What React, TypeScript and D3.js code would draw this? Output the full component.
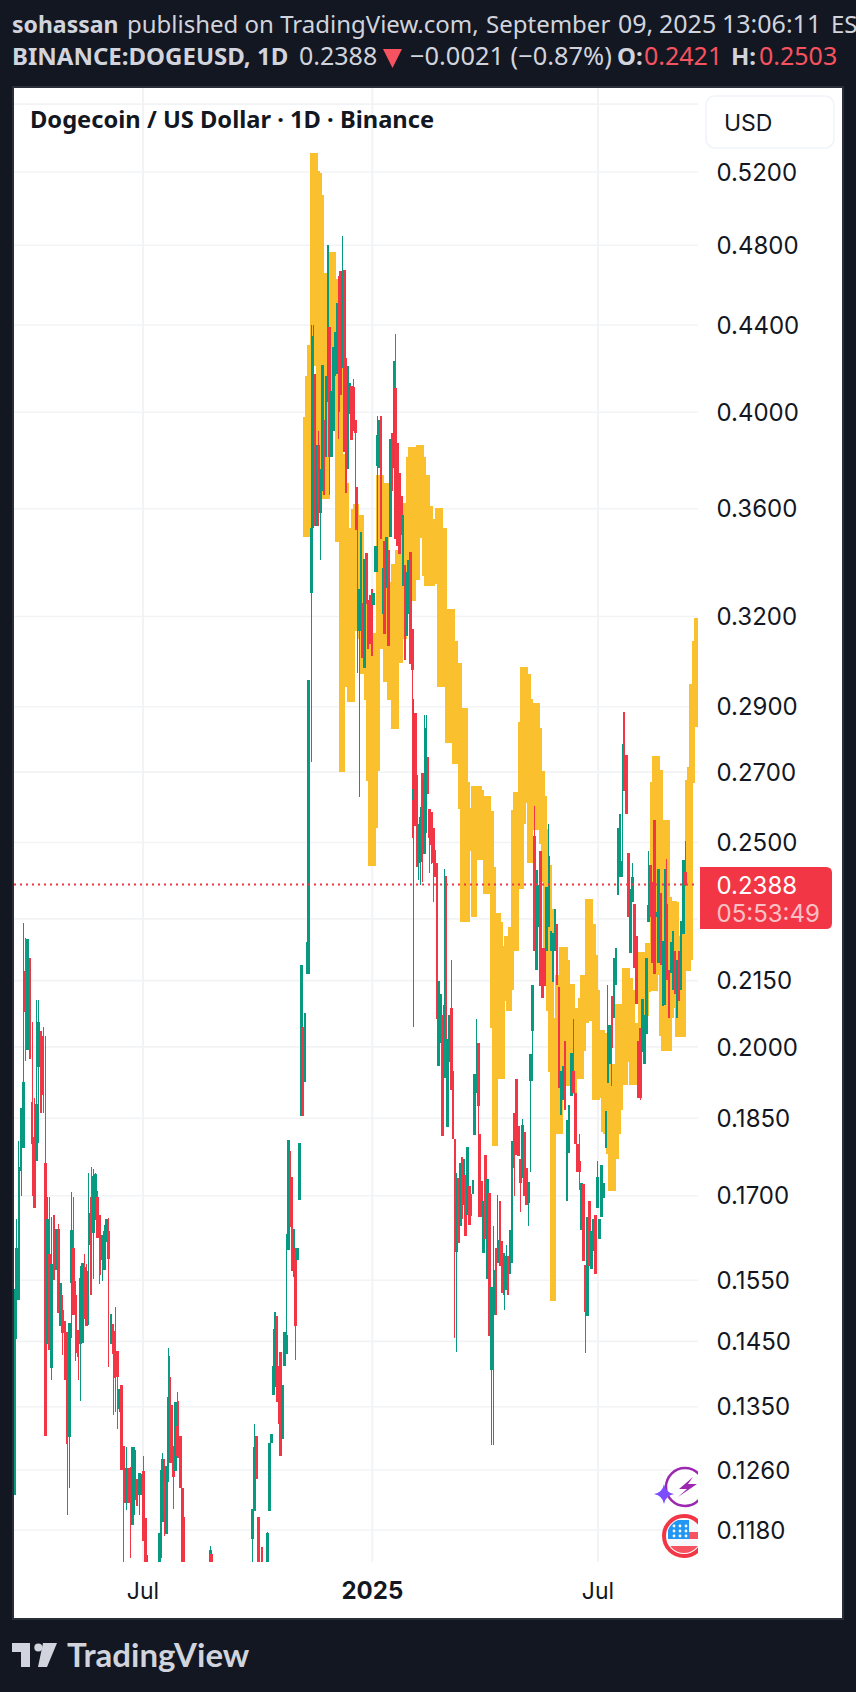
import * as d3 from 'd3';

const width = 856;
const height = 1692;

// open, high, low, close
const candlesSpring2024 = [
  [0.1226, 0.1535, 0.1226, 0.1535], [0.1517, 0.1658, 0.1453, 0.1606], [0.1517, 0.1805, 0.1517, 0.1755],
  [0.1746, 0.187, 0.17, 0.187], [0.179, 0.229, 0.179, 0.1925], [0.2172, 0.2252, 0.197, 0.2077],
  [0.1994, 0.225, 0.1994, 0.225], [0.2204, 0.2204, 0.1973, 0.1973], [0.1883, 0.2055, 0.17, 0.1798],
  [0.1812, 0.1892, 0.1677, 0.1677], [0.1766, 0.2105, 0.1766, 0.188], [0.1957, 0.2105, 0.18, 0.2055],
  [0.2036, 0.2036, 0.186, 0.186], [0.2025, 0.2043, 0.186, 0.1898], [0.1762, 0.2025, 0.1308, 0.1308],
  [0.1445, 0.1697, 0.1445, 0.1657], [0.1595, 0.1697, 0.1437, 0.1437], [0.1408, 0.166, 0.139, 0.1577],
  [0.1664, 0.1664, 0.1551, 0.1551], [0.1568, 0.164, 0.1568, 0.164], [0.164, 0.1648, 0.1496, 0.1496],
  [0.1474, 0.1545, 0.1474, 0.1545], [0.1501, 0.1525, 0.1428, 0.1463], [0.1483, 0.1483, 0.139, 0.139],
  [0.1465, 0.1465, 0.12, 0.1296], [0.1306, 0.148, 0.1235, 0.148], [0.1545, 0.1707, 0.1455, 0.1638],
  [0.1605, 0.1697, 0.1492, 0.1492], [0.1525, 0.1549, 0.1419, 0.1432], [0.1468, 0.1468, 0.139, 0.1426],
  [0.1445, 0.1575, 0.1358, 0.1554], [0.1448, 0.158, 0.1448, 0.158], [0.1573, 0.1595, 0.1485, 0.1485],
  [0.1565, 0.1577, 0.1474, 0.1474], [0.161, 0.1742, 0.1476, 0.1668], [0.1697, 0.1755, 0.1525, 0.1525],
  [0.1632, 0.175, 0.1553, 0.1737], [0.1655, 0.1742, 0.1655, 0.174], [0.1697, 0.1708, 0.1624, 0.1624],
  [0.1664, 0.1664, 0.1543, 0.1559], [0.1585, 0.1628, 0.1549, 0.1628], [0.1568, 0.1647, 0.1568, 0.1635],
  [0.1617, 0.1657, 0.1617, 0.1657], [0.1635, 0.1659, 0.141, 0.1587], [0.1446, 0.1494, 0.1446, 0.1494],
  [0.1478, 0.1478, 0.1338, 0.143], [0.1467, 0.1506, 0.1343, 0.1393], [0.1434, 0.1434, 0.1317, 0.1395],
  [0.1347, 0.1376, 0.1342, 0.1376], [0.1382, 0.1382, 0.126, 0.126], [0.1293, 0.1293, 0.112, 0.1215],
  [0.1215, 0.1292, 0.1206, 0.1263], [0.1263, 0.1263, 0.1215, 0.1215], [0.1237, 0.1264, 0.1144, 0.1215],
  [0.1187, 0.1292, 0.1187, 0.1292], [0.1219, 0.1292, 0.12, 0.1288], [0.1247, 0.1247, 0.1212, 0.1212],
  [0.1226, 0.1256, 0.12, 0.1256], [0.1226, 0.1254, 0.1226, 0.1254], [0.1258, 0.1279, 0.1166, 0.1166],
  [0.1195, 0.1195, 0.112, 0.112], [0.112, 0.1148, 0.111, 0.1125],
];

const candlesSummer2024 = [
  [0.113, 0.1176, 0.113, 0.1176], [0.1144, 0.126, 0.1144, 0.126], [0.119, 0.1283, 0.119, 0.1275],
  [0.1242, 0.1275, 0.1172, 0.1203], [0.1175, 0.1266, 0.1175, 0.1266], [0.1244, 0.1439, 0.1244, 0.1364],
  [0.1395, 0.1427, 0.127, 0.128], [0.1352, 0.1352, 0.1269, 0.1269], [0.1293, 0.1293, 0.1208, 0.125],
  [0.1258, 0.1357, 0.1258, 0.1357], [0.1322, 0.1372, 0.1279, 0.1279], [0.1308, 0.1358, 0.1277, 0.1277],
  [0.1308, 0.1308, 0.1236, 0.1236], [0.1235, 0.1235, 0.112, 0.112], [0.1197, 0.1197, 0.112, 0.112],
];

const candlesAugust2024 = [
  [0.113, 0.116, 0.113, 0.1155], [0.115, 0.115, 0.112, 0.112],
];

const candlesAutumn2024 = [
  [0.1169, 0.1208, 0.113, 0.1208], [0.1205, 0.1325, 0.1205, 0.1292], [0.1308, 0.1308, 0.1247, 0.1247],
  [0.1197, 0.1197, 0.112, 0.112], [0.112, 0.113, 0.111, 0.1125], [0.1158, 0.1158, 0.112, 0.112],
  [0.112, 0.113, 0.111, 0.1125], [0.112, 0.113, 0.111, 0.1125], [0.113, 0.1178, 0.113, 0.1176],
  [0.1205, 0.1298, 0.1205, 0.1298], [0.1297, 0.131, 0.1297, 0.131], [0.1368, 0.147, 0.1368, 0.1412],
  [0.138, 0.1497, 0.138, 0.1497], [0.149, 0.149, 0.1357, 0.1357], [0.1412, 0.1412, 0.1325, 0.1325],
  [0.1433, 0.1433, 0.1279, 0.1279], [0.1303, 0.1383, 0.1303, 0.1383], [0.1412, 0.1465, 0.1412, 0.1465],
  [0.143, 0.163, 0.143, 0.146], [0.1602, 0.1806, 0.1602, 0.1806], [0.1785, 0.1785, 0.1643, 0.1643],
  [0.1735, 0.1735, 0.1565, 0.1565], [0.1555, 0.164, 0.1555, 0.164], [0.1605, 0.1605, 0.142, 0.1475],
  [0.1585, 0.1605, 0.1585, 0.1605], [0.1692, 0.18, 0.1692, 0.18], [0.1854, 0.2187, 0.1854, 0.2187],
  [0.2045, 0.2045, 0.1854, 0.1854], [0.1925, 0.2075, 0.1925, 0.2075], [0.2165, 0.2243, 0.2165, 0.2243],
  [0.2165, 0.2985, 0.2165, 0.2985],
];

const candlesWinter2024 = [
  [0.3285, 0.44, 0.273, 0.3524], [0.3524, 0.44, 0.3524, 0.4346], [0.417, 0.417, 0.3532, 0.3532],
  [0.3532, 0.386, 0.3532, 0.386], [0.386, 0.392, 0.3532, 0.362], [0.3582, 0.376, 0.3405, 0.376],
  [0.3672, 0.4211, 0.3672, 0.4211], [0.3967, 0.3967, 0.3653, 0.3653], [0.3811, 0.416, 0.3811, 0.416],
  [0.4046, 0.48, 0.4046, 0.48], [0.4388, 0.4388, 0.3653, 0.3811], [0.3811, 0.4093, 0.3811, 0.4093],
  [0.392, 0.4295, 0.392, 0.4295], [0.416, 0.4367, 0.416, 0.4367], [0.417, 0.4508, 0.417, 0.4508],
  [0.4315, 0.4644, 0.3884, 0.4], [0.4666, 0.4666, 0.4077, 0.4077], [0.42, 0.4848, 0.42, 0.4666],
  [0.4673, 0.4673, 0.3829, 0.3829], [0.4243, 0.4243, 0.3663, 0.3663], [0.376, 0.4205, 0.376, 0.4205],
  [0.3994, 0.4128, 0.3994, 0.4128], [0.4118, 0.4118, 0.388, 0.388], [0.4112, 0.415, 0.392, 0.392],
  [0.3967, 0.3967, 0.3516, 0.391], [0.3686, 0.3686, 0.3008, 0.3516], [0.3149, 0.3296, 0.2629, 0.3296],
  [0.3149, 0.3511, 0.3149, 0.3511], [0.3248, 0.3248, 0.3057, 0.3057], [0.3025, 0.3409, 0.3025, 0.3409],
  [0.343, 0.343, 0.3243, 0.3243], [0.3259, 0.3259, 0.3089, 0.3089], [0.3276, 0.3276, 0.3105, 0.3105],
  [0.3296, 0.3296, 0.3065, 0.3065], [0.324, 0.3283, 0.324, 0.3283], [0.3359, 0.3458, 0.3359, 0.3458],
  [0.3773, 0.3985, 0.3359, 0.3902], [0.3764, 0.3967, 0.3764, 0.3967], [0.3985, 0.3985, 0.3483, 0.3483],
  [0.321, 0.3376, 0.321, 0.3376], [0.3475, 0.3475, 0.3139, 0.3139], [0.3301, 0.3491, 0.3301, 0.3491],
  [0.3442, 0.3442, 0.3097, 0.3097], [0.3491, 0.3884, 0.3491, 0.3884], [0.391, 0.391, 0.3672, 0.3672],
  [0.3764, 0.4232, 0.3764, 0.4232], [0.4108, 0.4357, 0.3483, 0.3483], [0.3866, 0.3866, 0.3458, 0.3458],
  [0.3745, 0.3745, 0.3425, 0.3425], [0.3649, 0.3649, 0.3499, 0.3499], [0.331, 0.3577, 0.331, 0.3577],
  [0.3384, 0.3384, 0.3053, 0.3053], [0.3134, 0.3359, 0.3134, 0.3359], [0.321, 0.3404, 0.321, 0.3404],
  [0.3433, 0.3433, 0.3038, 0.3038], [0.3157, 0.3157, 0.2512, 0.302],
];

const candlesFeb2025 = [
  [0.262, 0.2925, 0.2045, 0.265], [0.288, 0.288, 0.2545, 0.2545], [0.2692, 0.2692, 0.2434, 0.2434],
  [0.2444, 0.2551, 0.24, 0.2551], [0.2447, 0.26, 0.2387, 0.257], [0.2698, 0.2698, 0.2394, 0.2498],
  [0.2469, 0.2875, 0.2469, 0.2679], [0.2525, 0.2875, 0.2525, 0.2834], [0.2745, 0.2745, 0.2636, 0.2636],
  [0.2592, 0.2592, 0.2419, 0.2512], [0.2584, 0.2584, 0.2442, 0.2494], [0.254, 0.254, 0.2344, 0.2445],
  [0.2481, 0.2481, 0.2407, 0.2407], [0.2444, 0.2444, 0.2061, 0.2061], [0.1958, 0.215, 0.1958, 0.215],
  [0.2008, 0.2118, 0.2008, 0.2118], [0.2072, 0.2072, 0.1814, 0.1814], [0.1933, 0.2428, 0.1933, 0.2094],
  [0.2411, 0.2411, 0.1933, 0.2018], [0.1833, 0.2018, 0.1833, 0.2018], [0.1968, 0.207, 0.1968, 0.207],
  [0.2086, 0.22, 0.1909, 0.1909], [0.1948, 0.1948, 0.1808, 0.1808], [0.1808, 0.1808, 0.1456, 0.1652],
  [0.1598, 0.1742, 0.1433, 0.1689], [0.1733, 0.1733, 0.1614, 0.1614], [0.1644, 0.1762, 0.1644, 0.1762],
  [0.1773, 0.1773, 0.1657, 0.1657], [0.1683, 0.1769, 0.1683, 0.1769], [0.1738, 0.1738, 0.1627, 0.1627],
  [0.1664, 0.1792, 0.1664, 0.1792], [0.1719, 0.1719, 0.1646, 0.1646], [0.1703, 0.1703, 0.1663, 0.1663],
  [0.1703, 0.173, 0.1703, 0.173], [0.1816, 0.1941, 0.1816, 0.1941], [0.1901, 0.2062, 0.1901, 0.1935],
  [0.2008, 0.2008, 0.1772, 0.1875],
];

const candlesMid2025 = [
  [0.1818, 0.1818, 0.1661, 0.1661], [0.1728, 0.1728, 0.1661, 0.1661], [0.1596, 0.1691, 0.1596, 0.1691],
  [0.1778, 0.1778, 0.1622, 0.1622], [0.1553, 0.1731, 0.1553, 0.1731], [0.1705, 0.1705, 0.1459, 0.1459],
  [0.1405, 0.1538, 0.1295, 0.1538], [0.1492, 0.1644, 0.1295, 0.1568], [0.1605, 0.1605, 0.1492, 0.1492],
  [0.1579, 0.1702, 0.1579, 0.162], [0.169, 0.169, 0.1574, 0.1574], [0.1618, 0.1618, 0.1529, 0.1529],
  [0.1525, 0.1596, 0.1501, 0.1596], [0.1533, 0.1611, 0.1533, 0.1592], [0.1592, 0.1592, 0.1525, 0.1525],
  [0.1561, 0.1638, 0.1561, 0.1638], [0.1579, 0.1804, 0.1579, 0.1804], [0.1861, 0.1861, 0.17, 0.1752],
  [0.1931, 0.1931, 0.1778, 0.1778], [0.1834, 0.1834, 0.1775, 0.1775], [0.177, 0.177, 0.167, 0.1723],
  [0.1733, 0.1848, 0.1733, 0.1837], [0.1823, 0.1823, 0.17, 0.17], [0.1752, 0.1752, 0.1683, 0.1683],
  [0.1687, 0.1725, 0.1644, 0.1725], [0.1927, 0.1985, 0.1745, 0.1985], [0.2036, 0.214, 0.1927, 0.214],
  [0.2519, 0.2602, 0.2222, 0.2222], [0.2175, 0.2426, 0.2175, 0.2426], [0.2281, 0.2388, 0.2281, 0.2388],
  [0.2477, 0.2477, 0.2138, 0.2138], [0.2228, 0.2228, 0.211, 0.211], [0.2228, 0.2228, 0.2138, 0.2138],
  [0.2222, 0.2381, 0.2222, 0.2381], [0.2281, 0.255, 0.2281, 0.2464], [0.2222, 0.2269, 0.2222, 0.2269],
  [0.2148, 0.2266, 0.2148, 0.2266], [0.2222, 0.2324, 0.2222, 0.2324], [0.2287, 0.2287, 0.214, 0.214],
  [0.2135, 0.2135, 0.1912, 0.1912], [0.1856, 0.1947, 0.1856, 0.1947], [0.1887, 0.1959, 0.1887, 0.1959],
  [0.2014, 0.2014, 0.1867, 0.1867], [0.1691, 0.1846, 0.1691, 0.1846], [0.1782, 0.1876, 0.1782, 0.1876],
  [0.1895, 0.1986, 0.1895, 0.1986], [0.1947, 0.2061, 0.1902, 0.1902], [0.1902, 0.1902, 0.1799, 0.1799],
  [0.1799, 0.1799, 0.1745, 0.1745], [0.1766, 0.1818, 0.171, 0.1745], [0.1637, 0.1723, 0.1637, 0.1723],
  [0.1722, 0.1722, 0.1583, 0.1583], [0.1576, 0.1576, 0.1432, 0.1497], [0.149, 0.1661, 0.149, 0.1661],
  [0.169, 0.169, 0.1574, 0.1574], [0.157, 0.1635, 0.157, 0.1635], [0.1601, 0.1657, 0.1601, 0.1657],
  [0.1665, 0.1665, 0.1561, 0.1561], [0.1678, 0.1766, 0.1678, 0.1736], [0.1622, 0.1657, 0.1622, 0.1657],
  [0.1661, 0.1758, 0.1661, 0.1758], [0.1696, 0.1723, 0.1696, 0.1723], [0.179, 0.1864, 0.179, 0.1864],
  [0.1922, 0.214, 0.1922, 0.2049], [0.1963, 0.2049, 0.1963, 0.2049], [0.2115, 0.2115, 0.1917, 0.1998],
  [0.2063, 0.2204, 0.2063, 0.2204], [0.214, 0.2228, 0.214, 0.2228], [0.236, 0.2541, 0.236, 0.2541],
  [0.2407, 0.258, 0.2407, 0.258], [0.2407, 0.2784, 0.2407, 0.245], [0.2884, 0.2884, 0.2645, 0.2645],
  [0.275, 0.275, 0.258, 0.258], [0.2471, 0.2471, 0.2305, 0.2305], [0.2216, 0.2377, 0.2216, 0.2377],
  [0.2343, 0.2445, 0.2343, 0.2407], [0.2339, 0.2339, 0.2181, 0.2181], [0.2258, 0.2258, 0.2097, 0.2097],
  [0.2012, 0.2012, 0.1892, 0.1892], [0.2041, 0.2041, 0.1887, 0.1892], [0.1988, 0.2107, 0.1988, 0.2107],
  [0.1963, 0.2072, 0.1963, 0.2072], [0.2028, 0.2204, 0.2028, 0.2204], [0.2293, 0.2477, 0.2293, 0.2335],
  [0.2439, 0.2439, 0.2305, 0.2305], [0.2394, 0.2394, 0.2192, 0.2192], [0.2561, 0.2561, 0.2165, 0.2165],
  [0.2305, 0.2318, 0.2305, 0.2318], [0.2192, 0.2429, 0.2192, 0.2429], [0.2366, 0.2366, 0.2186, 0.2186],
  [0.2091, 0.2246, 0.2091, 0.2246], [0.2094, 0.243, 0.2094, 0.243], [0.2337, 0.2456, 0.2151, 0.2151],
  [0.2175, 0.2175, 0.2063, 0.2063], [0.2169, 0.2243, 0.2169, 0.2243], [0.2129, 0.2269, 0.2129, 0.2269],
  [0.2222, 0.2222, 0.2118, 0.2118], [0.2063, 0.2198, 0.2063, 0.2198], [0.2222, 0.2222, 0.2103, 0.2103],
  [0.2129, 0.2295, 0.2129, 0.2295], [0.2263, 0.2452, 0.2263, 0.2452], [0.2421, 0.2503, 0.2385, 0.2388],
];

const candleRuns = [
  { from: '2024-03-20', to: '2024-07-05', rows: candlesSpring2024 },
  { from: '2024-07-14', to: '2024-08-03', rows: candlesSummer2024 },
  { from: '2024-08-24', to: '2024-08-25', rows: candlesAugust2024 },
  { from: '2024-09-27', to: '2024-11-11', rows: candlesAutumn2024 },
  { from: '2024-11-13', to: '2025-02-02', rows: candlesWinter2024 },
  { from: '2025-02-03', to: '2025-03-27', rows: candlesFeb2025 },
  { from: '2025-03-28', to: '2025-09-09', rows: candlesMid2025 },
];

// top, bottom of the yellow overlay bars
const overlayFirst = [
  [0.398, 0.349], [0.416, 0.349], [0.4305, 0.3699], [0.531, 0.4207], [0.531, 0.442], [0.5208, 0.442],
  [0.5193, 0.3699], [0.5073, 0.3699], [0.4207, 0.3639], [0.4207, 0.3639], [0.4655, 0.3639], [0.4655, 0.3878],
  [0.4763, 0.4112], [0.4763, 0.3967], [0.4628, 0.3967], [0.4628, 0.347], [0.4453, 0.347], [0.3823, 0.27],
  [0.3758, 0.3042], [0.3703, 0.3042], [0.3524, 0.2963], [0.3442, 0.2915], [0.3442, 0.2915], [0.36, 0.3298],
  [0.3619, 0.3149], [0.3574, 0.3149], [0.3574, 0.3124], [0.331, 0.3005], [0.3264, 0.3005], [0.3149, 0.2922],
  [0.3149, 0.2673], [0.311, 0.2438], [0.311, 0.2438], [0.3142, 0.254], [0.3142, 0.2704], [0.3736, 0.3089],
  [0.3736, 0.3089], [0.3703, 0.313], [0.3703, 0.298], [0.3323, 0.298], [0.3323, 0.2922], [0.3323, 0.2922],
  [0.3389, 0.283], [0.3389, 0.283], [0.3442, 0.3042], [0.3442, 0.3042], [0.3442, 0.3123], [0.3621, 0.3123],
  [0.3621, 0.3256], [0.3811, 0.3256], [0.3851, 0.3256], [0.3851, 0.3256], [0.3851, 0.3329], [0.3851, 0.3329],
  [0.386, 0.3513], [0.386, 0.3486], [0.3811, 0.3486], [0.3736, 0.3346], [0.3736, 0.331], [0.3611, 0.331],
  [0.3527, 0.331], [0.356, 0.3315], [0.356, 0.334], [0.3604, 0.334], [0.3604, 0.2963], [0.3524, 0.2963],
  [0.3524, 0.302], [0.3183, 0.302], [0.3183, 0.2786], [0.3225, 0.2786], [0.3225, 0.2786], [0.3117, 0.2725],
  [0.3042, 0.2725], [0.3042, 0.2725], [0.2896, 0.2592], [0.2896, 0.2293], [0.2896, 0.2293], [0.2671, 0.2293],
];

const overlaySecond = [
  [0.2595, 0.2477], [0.266, 0.2305], [0.266, 0.2452], [0.266, 0.2452], [0.2649, 0.2452], [0.2631, 0.2452],
  [0.2631, 0.2363], [0.2631, 0.2363], [0.2587, 0.2363], [0.2435, 0.2041], [0.2314, 0.1795], [0.2314, 0.1932],
  [0.2293, 0.1932], [0.2234, 0.1932], [0.2234, 0.2103], [0.2258, 0.2103], [0.2258, 0.2081], [0.2281, 0.2129],
  [0.259, 0.2222], [0.2642, 0.2222], [0.2631, 0.2377], [0.2852, 0.2377], [0.303, 0.255], [0.303, 0.2611],
  [0.3004, 0.2611], [0.2925, 0.2445], [0.2833, 0.255], [0.2913, 0.2534], [0.2913, 0.2585], [0.2833, 0.2534],
  [0.2704, 0.2496], [0.2631, 0.2394], [0.2536, 0.221], [0.2439, 0.2081], [0.2324, 0.1945], [0.2063, 0.1515],
  [0.2063, 0.1818], [0.2163, 0.1818], [0.2163, 0.1818], [0.223, 0.1957], [0.223, 0.1957], [0.2198, 0.1957],
  [0.2142, 0.1917], [0.2142, 0.1932], [0.2086, 0.1899], [0.2086, 0.1932], [0.2086, 0.1932], [0.211, 0.1932],
  [0.2163, 0.199], [0.2163, 0.2052], [0.235, 0.2057], [0.235, 0.2057], [0.2287, 0.2129], [0.221, 0.1887],
  [0.2129, 0.1887], [0.2038, 0.1892], [0.2038, 0.1902], [0.2031, 0.1823], [0.2, 0.1818], [0.1993, 0.178],
  [0.1963, 0.1709], [0.1963, 0.1709], [0.1963, 0.177], [0.2097, 0.1818], [0.2097, 0.1867], [0.2081, 0.1919],
  [0.2181, 0.1919], [0.2181, 0.1968], [0.2157, 0.1968], [0.2129, 0.1919], [0.2052, 0.1919], [0.2052, 0.1919],
  [0.2052, 0.1947], [0.2219, 0.1998], [0.2219, 0.2068], [0.2219, 0.2068], [0.224, 0.2124], [0.224, 0.2126],
  [0.267, 0.2126], [0.2747, 0.2126], [0.2747, 0.2163], [0.2706, 0.2163], [0.2563, 0.2025], [0.2563, 0.199],
  [0.2563, 0.199], [0.2356, 0.199], [0.2346, 0.2063], [0.2346, 0.2086], [0.2343, 0.2086], [0.2258, 0.2022],
  [0.2258, 0.2022], [0.2264, 0.2022], [0.2269, 0.2172], [0.2677, 0.2172], [0.2716, 0.2198], [0.2972, 0.2669],
  [0.3115, 0.2945], [0.3195, 0.2835], [0.3195, 0.2835], [0.3195, 0.2745],
];

const overlayRuns = [
  { from: '2024-11-09', to: '2025-03-18', rows: overlayFirst },
  { from: '2025-03-22', to: '2025-09-22', rows: overlaySecond },
];

const priceLabels = [0.52, 0.48, 0.44, 0.4, 0.36, 0.32, 0.29, 0.27, 0.25, 0.215, 0.2, 0.185, 0.17, 0.155, 0.145, 0.135, 0.126, 0.118];
const priceGrid = [0.56, 0.23];
const timeLabels = [
  { date: '2024-07-01', label: 'Jul', bold: false },
  { date: '2025-01-01', label: '2025', bold: true },
  { date: '2025-07-01', label: 'Jul', bold: false },
];
const lastPrice = 0.2388;

// header line pieces, placed one by one
const headerTop = [
  { x: 12, text: 'sohassan', size: 23, bold: true },
  { x: 127, text: 'published on TradingView.com,', size: 24 },
  { x: 486, text: 'September', size: 24 },
  { x: 618, text: '09,', size: 25 },
  { x: 659, text: '2025', size: 25 },
  { x: 722, text: '13:06:11', size: 25 },
  { x: 831, text: 'EST', size: 24 },
];
const headerBottom = [
  { x: 12, text: 'BINANCE:DOGEUSD, 1D', size: 24, bold: true },
  { x: 299, text: '0.2388', size: 25 },
  { x: 410, text: '−0.0021 (−0.87%)', size: 25.4 },
  { x: 617, text: 'O:', size: 24, bold: true },
  { x: 644, text: '0.2421', size: 25, red: true },
  { x: 731, text: 'H:', size: 24, bold: true },
  { x: 759, text: '0.2503', size: 25, red: true },
];

const dark = '#131722';
const light = '#d1d4dc';
const up = '#089981';
const down = '#f23645';
const overlay = '#fbc02d';
const gridColor = '#f2f3f5';
const axisFont = 'Inter, sans-serif';

const paneLeft = 14;
const paneRight = 698;
const paneTop = 88;
const paneBottom = 1562;

const x = d3
  .scaleUtc()
  .domain([new Date('2024-07-01'), new Date('2025-07-01')])
  .range([143, 598]);

const y = d3.scaleLog().domain([0.52, 0.118]).range([172, 1530]);

// spreads the rows of a run evenly between its two dates
const runDate = (run: { from: string; to: string; rows: number[][] }) =>
  d3
    .scaleLinear()
    .domain([0, Math.max(1, run.rows.length - 1)])
    .range([+new Date(run.from), +new Date(run.to)]);

const candles = candleRuns.flatMap((run) => {
  const at = runDate(run);
  return run.rows.map((r, i) => ({ t: new Date(at(i)), o: r[0], h: r[1], l: r[2], c: r[3] }));
});

const overlayBars = overlayRuns.flatMap((run) => {
  const at = runDate(run);
  return run.rows.map((r, i) => ({ t: new Date(at(i)), top: r[0], bottom: r[1] }));
});

const Header = () => (
  <g fontFamily="'Noto Sans', sans-serif" fill={light}>
    {headerTop.map((h) => (
      <text key={h.x} x={h.x} y={33} fontSize={h.size} fontWeight={h.bold ? 700 : 400}>
        {h.text}
      </text>
    ))}
    {headerBottom.map((h) => (
      <text key={h.x} x={h.x} y={65} fontSize={h.size} fontWeight={h.bold ? 700 : 400} fill={h.red ? '#f7525f' : light}>
        {h.text}
      </text>
    ))}
    <path d="M383 49 L402 49 L392.5 68 Z" fill="#f7525f" />
  </g>
);

const Logo = () => (
  <g fill={light}>
    <path d="M12 1643 H30 V1667 H21 V1652 H12 Z" />
    <circle cx={38.3} cy={1647.5} r={4} />
    <path d="M43 1643 H57 L47 1667 H38 Z" />
    <text x={67} y={1667} fontFamily="Lato, sans-serif" fontWeight={700} fontSize={33}>
      TradingView
    </text>
  </g>
);

const Icons = () => (
  <g clipPath="url(#pane)">
    <circle cx={685} cy={1487} r={19} fill="#fff" stroke="#9c27b0" strokeWidth={2.5} />
    <path d="M693 1477 L679 1489 L687 1489 L678 1497 L697 1484 L688 1484 Z" fill="#9c27b0" />
    <path d="M664 1484 Q665.5 1492.5 674 1494 Q665.5 1495.5 664 1504 Q662.5 1495.5 654 1494 Q662.5 1492.5 664 1484 Z" fill="#7c4dff" />
    <circle cx={684} cy={1536} r={20} fill="#fff" stroke={down} strokeWidth={4} />
    <g clipPath="url(#flag)">
      <rect x={668} y={1520} width={32} height={32} fill="#f5f7fb" />
      <rect x={668} y={1532} width={32} height={7} fill="#f7525f" />
      <rect x={668} y={1546} width={32} height={7} fill="#f7525f" />
      <rect x={668} y={1520} width={21} height={19} fill="#2196f3" />
      {[1526, 1531, 1536].map((sy) =>
        [674, 680, 686].map((sx) => <circle key={`${sx}-${sy}`} cx={sx} cy={sy} r={1.4} fill="#fff" />)
      )}
    </g>
  </g>
);

export default function App() {
  return (
    <svg
      width={width}
      height={height}
      viewBox={`0 0 ${width} ${height}`}
      style={{ position: 'absolute', left: 0, top: 0, display: 'block' }}
    >
      <defs>
        <clipPath id="pane">
          <rect x={paneLeft} y={paneTop} width={paneRight - paneLeft} height={paneBottom - paneTop} />
        </clipPath>
        <clipPath id="flag">
          <circle cx={684} cy={1536} r={17} />
        </clipPath>
      </defs>

      <rect width={width} height={height} fill={dark} />
      <rect x={13} y={87} width={830} height={1532} fill="#fff" stroke="#2a2e39" strokeWidth={2} />

      <Header />

      {/* grid */}
      <g stroke={gridColor}>
        {[...priceLabels, ...priceGrid].map((p) => (
          <line key={p} x1={paneLeft} x2={paneRight} y1={y(p)} y2={y(p)} strokeWidth={1.6} />
        ))}
        {timeLabels.map((t) => (
          <line
            key={t.date}
            x1={x(new Date(t.date))}
            x2={x(new Date(t.date))}
            y1={paneTop}
            y2={paneBottom}
            strokeWidth={2}
          />
        ))}
      </g>

      <g clipPath="url(#pane)" shapeRendering="crispEdges">
        {overlayBars.map((b, i) => (
          <rect
            key={i}
            x={x(b.t) - 3}
            y={y(b.top)}
            width={6}
            height={y(b.bottom) - y(b.top)}
            fill={overlay}
          />
        ))}
        {candles.map((c, i) => {
          const color = c.c >= c.o ? up : down;
          const top = y(Math.max(c.o, c.c));
          const bottom = y(Math.min(c.o, c.c));
          return (
            <g key={i} fill={color}>
              <rect x={x(c.t) - 0.5} y={y(c.h)} width={1} height={y(c.l) - y(c.h)} />
              <rect x={x(c.t) - 1.3} y={top} width={2.6} height={Math.max(1, bottom - top)} />
            </g>
          );
        })}
      </g>

      <line
        x1={paneLeft}
        x2={paneRight}
        y1={y(lastPrice)}
        y2={y(lastPrice)}
        stroke={down}
        strokeWidth={2}
        strokeDasharray="2 4"
      />

      <Icons />

      <text x={30} y={128} fontFamily="'Noto Sans', sans-serif" fontWeight={700} fontSize={23.7} fill={dark}>
        Dogecoin / US Dollar · 1D · Binance
      </text>

      {/* currency button */}
      <rect x={706} y={96} width={128} height={52} rx={9} fill="#fff" stroke="#f0f3fa" strokeWidth={1.5} />
      <text x={724} y={131} fontFamily={axisFont} fontSize={23} fill={dark}>
        USD
      </text>

      {/* price axis */}
      <g fontFamily={axisFont} fontSize={24} fill={dark}>
        {priceLabels.map((p) => (
          <text key={p} x={716.5} y={y(p)} dy="0.36em">
            {d3.format('.4f')(p)}
          </text>
        ))}
      </g>

      <path d="M700 867 H826 Q832 867 832 873 V923 Q832 929 826 929 H700 Z" fill={down} />
      <text x={716.5} y={885} dy="0.36em" fontFamily={axisFont} fontSize={24} fill="#fff">
        {d3.format('.4f')(lastPrice)}
      </text>
      <text x={716.5} y={913} dy="0.36em" fontFamily={axisFont} fontSize={24} fill="#fff" fillOpacity={0.7}>
        05:53:49
      </text>

      {/* time axis */}
      <g fontFamily={axisFont} fill={dark} textAnchor="middle">
        {timeLabels.map((t) => (
          <text key={t.date} x={x(new Date(t.date))} y={1599} fontWeight={t.bold ? 700 : 400} fontSize={t.bold ? 24 : 23}>
            {t.label}
          </text>
        ))}
      </g>

      <Logo />
    </svg>
  );
}
